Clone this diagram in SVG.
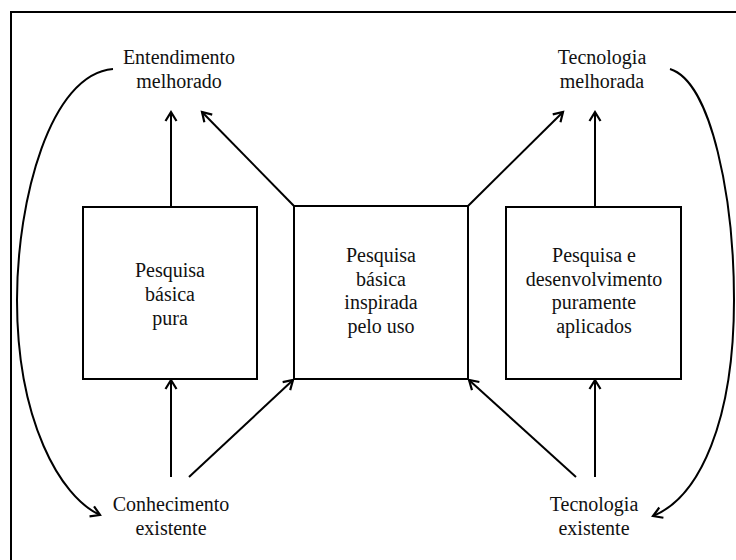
<svg xmlns="http://www.w3.org/2000/svg" width="736" height="560" viewBox="0 0 736 560">
  <style>
    .frame { fill: none; stroke: #000; stroke-width: 2; }
    .box { fill: #fff; stroke: #000; stroke-width: 2; }
    .conn { fill: none; stroke: #000; stroke-width: 2; }
    .t { font-family: 'Times New Roman', 'Liberation Serif', Tinos, serif; font-size: 20px; fill: #111; text-anchor: middle; }
  </style>
  <defs>
    <marker id="arr" markerUnits="userSpaceOnUse" markerWidth="14" markerHeight="14" viewBox="0 0 14 14" refX="11" refY="7" orient="auto">
      <path d="M2,1.5 L11,7 L2,12.5" fill="none" stroke="#000" stroke-width="2.2" stroke-linejoin="miter"/>
    </marker>
  </defs>
  <rect x="0" y="0" width="736" height="560" fill="#fff"/>
  <rect class="frame" x="11" y="12" width="740" height="560"/>

  <g id="connectors">
    <line class="conn" x1="171" y1="207" x2="171" y2="112" marker-end="url(#arr)"/>
    <line class="conn" x1="294" y1="206" x2="202" y2="112" marker-end="url(#arr)"/>
    <line class="conn" x1="468" y1="206" x2="563" y2="112" marker-end="url(#arr)"/>
    <line class="conn" x1="595" y1="207" x2="595" y2="112" marker-end="url(#arr)"/>
    <line class="conn" x1="171" y1="477" x2="171" y2="380" marker-end="url(#arr)"/>
    <line class="conn" x1="189" y1="477" x2="293" y2="380" marker-end="url(#arr)"/>
    <line class="conn" x1="576" y1="477" x2="469" y2="380" marker-end="url(#arr)"/>
    <line class="conn" x1="595" y1="477" x2="595" y2="380" marker-end="url(#arr)"/>
    <path class="conn" d="M113,69 C50,74 17,200 17,300 C17,420 60,497 100,515" marker-end="url(#arr)"/>
    <path class="conn" d="M670,69 C712,82 734,200 734,300 C734,420 700,497 653,516" marker-end="url(#arr)"/>
  </g>

  <g id="entendimento" class="t">
    <text x="179" y="64">Entendimento</text>
    <text x="179" y="88">melhorado</text>
  </g>
  <g id="tecnologia-melhorada" class="t">
    <text x="602" y="64">Tecnologia</text>
    <text x="602" y="88">melhorada</text>
  </g>
  <g id="conhecimento" class="t">
    <text x="171" y="511">Conhecimento</text>
    <text x="171" y="535">existente</text>
  </g>
  <g id="tecnologia-existente" class="t">
    <text x="594" y="511">Tecnologia</text>
    <text x="594" y="535">existente</text>
  </g>

  <g id="pura">
    <rect class="box" x="83" y="207" width="174" height="172"/>
    <g class="t">
      <text x="170" y="277">Pesquisa</text>
      <text x="170" y="301">básica</text>
      <text x="170" y="325">pura</text>
    </g>
  </g>
  <g id="inspirada">
    <rect class="box" x="294" y="206" width="174" height="173"/>
    <g class="t">
      <text x="381" y="262">Pesquisa</text>
      <text x="381" y="286">básica</text>
      <text x="381" y="309">inspirada</text>
      <text x="381" y="333">pelo uso</text>
    </g>
  </g>
  <g id="aplicados">
    <rect class="box" x="506" y="207" width="175" height="172"/>
    <g class="t">
      <text x="594" y="262">Pesquisa e</text>
      <text x="594" y="286">desenvolvimento</text>
      <text x="594" y="309">puramente</text>
      <text x="594" y="333">aplicados</text>
    </g>
  </g>
</svg>
